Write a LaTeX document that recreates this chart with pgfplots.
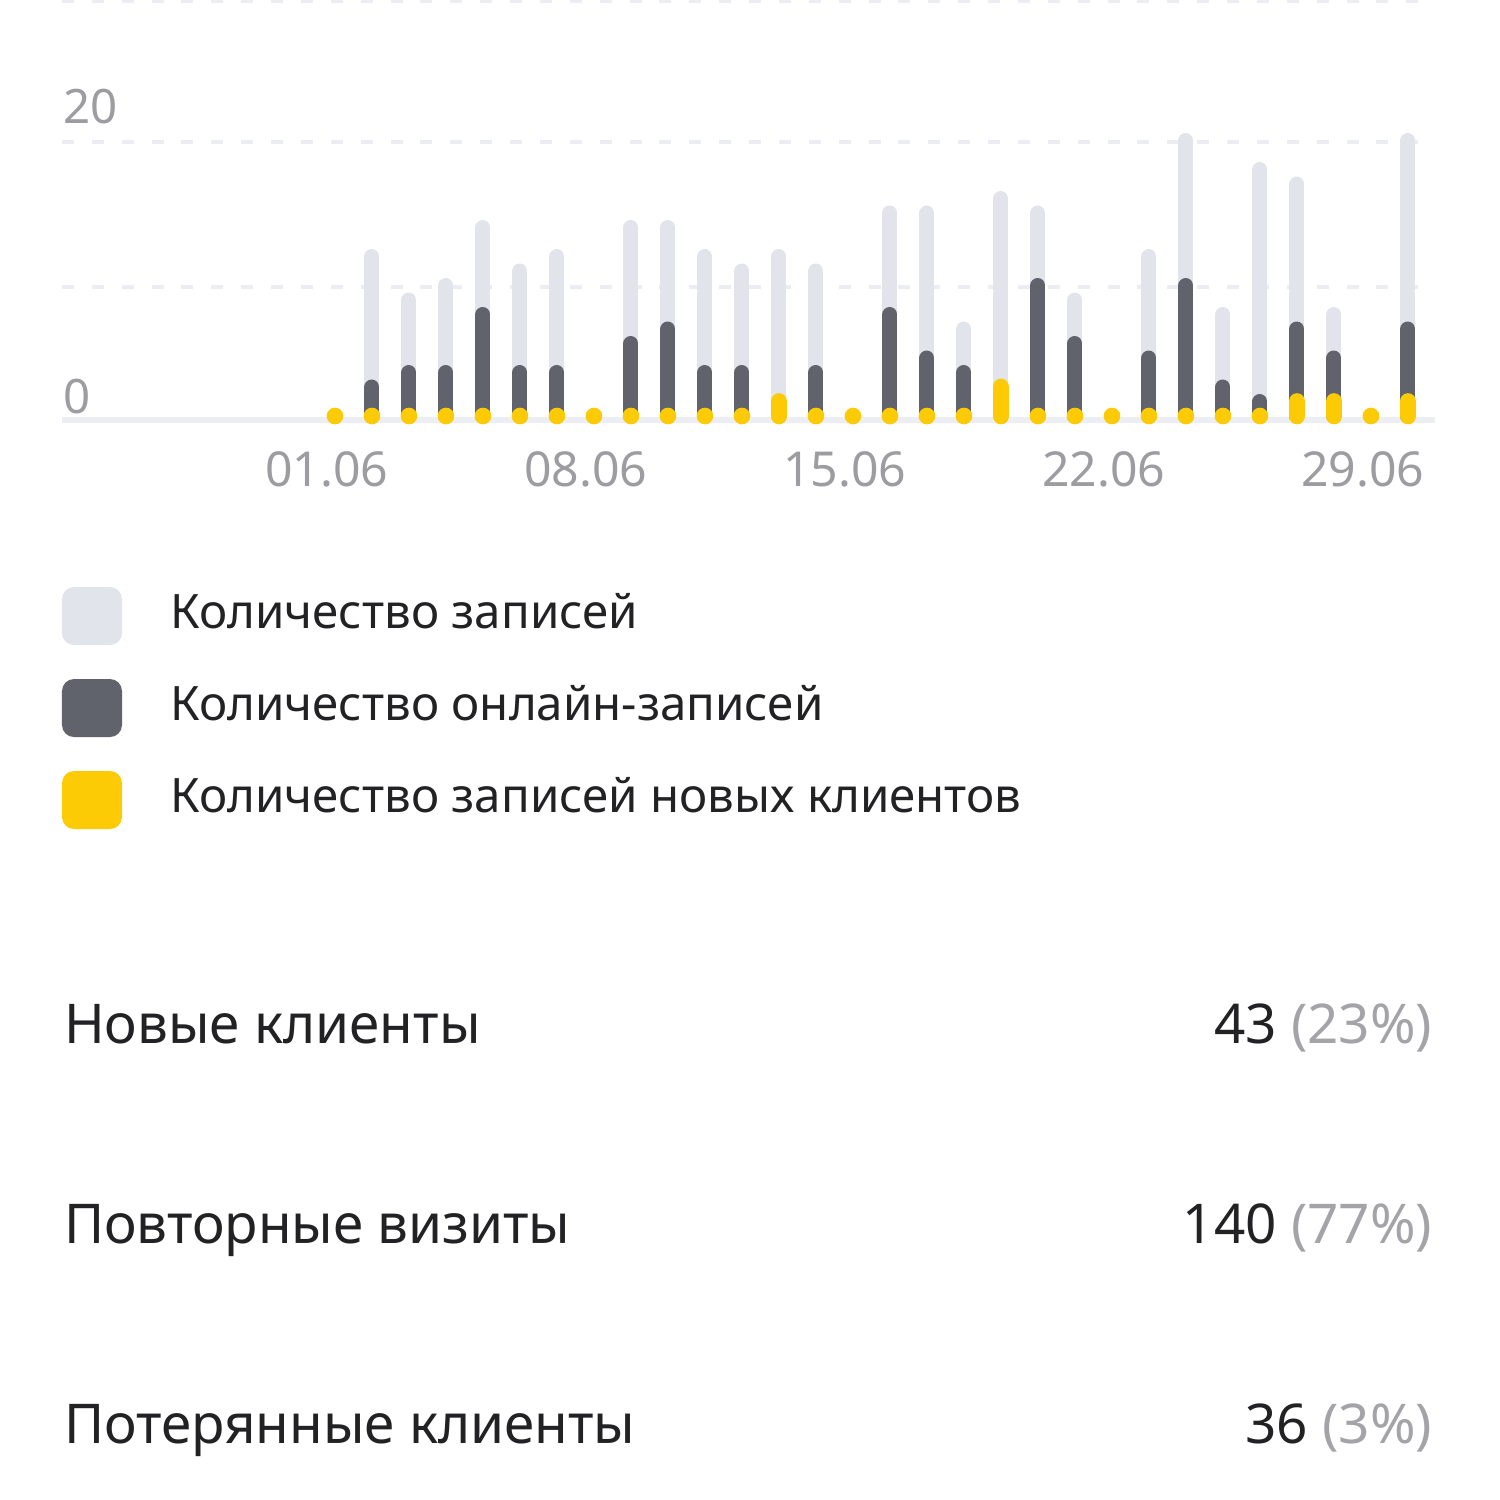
\documentclass[border=0pt]{standalone}
\usepackage{fontspec}
\setmainfont{Noto Sans}
\usepackage{pgfplots}
\usepackage{pgfplotstable}
\pgfplotsset{compat=1.18}
\definecolor{lightbar}{HTML}{E2E4EC}
\definecolor{darkbar}{HTML}{60636C}
\definecolor{yel}{HTML}{FCCB05}
\definecolor{gridc}{HTML}{ECEDF2}
\definecolor{basec}{HTML}{EDEEF3}
\definecolor{tickc}{HTML}{9C9CA1}
\definecolor{txt}{HTML}{222225}
\definecolor{pct}{HTML}{A3A3A8}

\pgfplotstableread{
day light online new
1 0 0 0
2 11 2 0
3 8 3 0
4 9 3 0
5 13 7 0
6 10 3 0
7 11 3 0
8 0 0 0
9 13 5 0
10 13 6 0
11 11 3 0
12 10 3 0
13 11 0 1
14 10 3 0
15 0 0 0
16 14 7 0
17 14 4 0
18 6 3 0
19 15 0 2
20 14 9 0
21 8 5 0
22 0 0 0
23 11 4 0
24 19 9 0
25 7 2 0
26 17 1 0
27 16 6 1
28 7 4 1
29 0 0 0
30 19 6 1
}\datatable

\begin{document}
\begin{tikzpicture}
\path[use as bounding box] (0,0) rectangle (15,-15);
\draw[gridc, line width=1.1pt, dash pattern=on 3.4pt off 5.1pt] (0.62,-0.01) -- (14.35,-0.01);
\begin{axis}[
  at={(0.62cm,-4.20cm)}, anchor=south west, scale only axis,
  width=13.73cm, height=2.783cm,
  xmin=-6.378, xmax=30.73, ymin=-0.276, ymax=18.917,
  clip=false,
  axis line style={draw=none},
  tick style={draw=none},
  xtick={1,8,15,22,29}, xticklabels={01.06,08.06,15.06,22.06,29.06},
  xticklabel style={anchor=center, yshift=-0.49cm, xshift=-0.08cm, font=\fontsize{13.7}{13.7}\selectfont, text=tickc},
  ytick={8.917,18.917}, yticklabels={},
  ymajorgrids, grid style={gridc, line width=1.1pt, dash pattern=on 3.4pt off 5.1pt},
  extra y ticks={-0.276}, extra y tick labels={},
  extra y tick style={grid=major, major grid style={basec, line width=1.7pt, solid}},
]
\addplot[ycomb, draw=lightbar, line width=4.27pt, line cap=round, mark=none] table[x=day,y=light]{\datatable};
\addplot[ycomb, draw=darkbar, line width=4.27pt, line cap=round, mark=none] table[x=day,y=online]{\datatable};
\addplot[ycomb, draw=yel, line width=4.75pt, line cap=round, mark=none] table[x=day,y=new]{\datatable};
\end{axis}
\node[anchor=west, inner sep=0, text=tickc, font=\fontsize{13.5}{13.5}\selectfont] at (0.63,-1.065) {20};
\node[anchor=west, inner sep=0, text=tickc, font=\fontsize{13.5}{13.5}\selectfont] at (0.63,-3.967) {0};
% legend
\fill[lightbar, rounded corners=0.12cm] (0.62,-5.87) rectangle (1.22,-6.45);
\fill[darkbar, rounded corners=0.12cm] (0.62,-6.79) rectangle (1.22,-7.37);
\fill[yel, rounded corners=0.12cm] (0.62,-7.71) rectangle (1.22,-8.29);
\begin{scope}[every node/.style={anchor=base west, inner sep=0, text=txt, font=\fontsize{13.5}{13.5}\selectfont}]
\node at (1.70,-6.28) {Количество записей};
\node at (1.70,-7.20) {Количество онлайн-записей};
\node at (1.70,-8.12) {Количество записей новых клиентов};
\end{scope}
% stats
\begin{scope}[every node/.style={inner sep=0, text=txt, font=\fontsize{15.6}{15.6}\selectfont}]
\node[anchor=base west] at (0.633,-10.433) {Новые клиенты};
\node[anchor=base east] at (14.33,-10.433) {43 \textcolor{pct}{(23\%)}};
\node[anchor=base west] at (0.633,-12.433) {Повторные визиты};
\node[anchor=base east] at (14.33,-12.433) {140 \textcolor{pct}{(77\%)}};
\node[anchor=base west] at (0.633,-14.433) {Потерянные клиенты};
\node[anchor=base east] at (14.33,-14.433) {36 \textcolor{pct}{(3\%)}};
\end{scope}
\end{tikzpicture}
\end{document}
